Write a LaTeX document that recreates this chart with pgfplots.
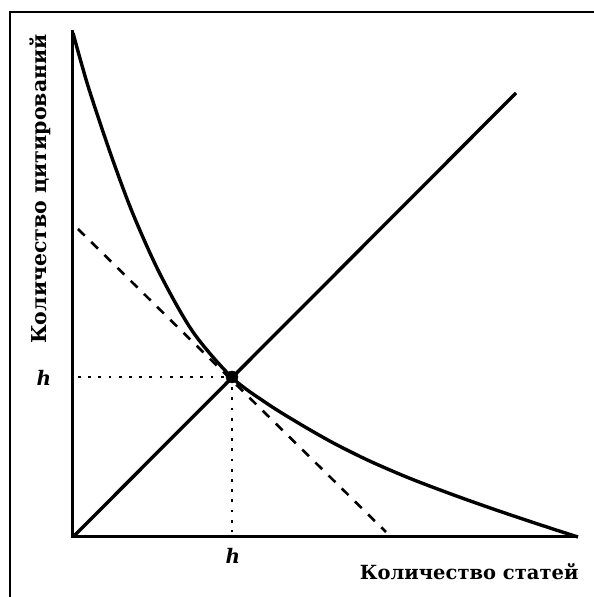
\documentclass[border=0pt]{standalone}
\usepackage{pgfplots}
\pgfplotsset{compat=1.18}
\usepackage{fontspec}
\setmainfont{DejaVu Serif}
\begin{document}
\begin{tikzpicture}[x=1pt,y=1pt]
\path[use as bounding box] (0,0) rectangle (594,597);
\draw[line width=1.8pt] (10,0) -- (10,585) -- (594,585);
\begin{axis}[at={(73pt,60pt)}, anchor=origin, x=1pt, y=1pt,
  xmin=0, xmax=505, ymin=0, ymax=507,
  axis lines=none, clip=false]
% axes
\addplot[black, line width=3pt, line join=miter] coordinates {(0,507) (0,0) (505,0)};
% decreasing curve
\addplot[black, line width=3.4pt, smooth, tension=0.5] coordinates {
(0,504) (15,451) (38,382) (60,323) (87,263) (120,205) (159,159.5) (194,133.5)
(227,113) (260,94.2) (294,77.2) (327,62.7) (350,53.5) (384,40.8) (417,29.1)
(450,17.9) (484,6.7) (505,0)};
% diagonal
\addplot[black, line width=3.4pt] coordinates {(0,0) (443,444)};
% dashed tangent
\addplot[black, line width=2.6pt, dash pattern=on 9.5pt off 9pt] coordinates {(5,308) (313,5)};
% dotted guides
\addplot[black, line width=2.8pt, dash pattern=on 2.8pt off 7.4pt] coordinates {(5,160) (159,160)};
\addplot[black, line width=2.8pt, dash pattern=on 2.8pt off 7.4pt] coordinates {(159,160) (159,5)};
% point
\addplot[black, only marks, mark=*, mark size=6pt] coordinates {(159,160)};
% labels
\node[font=\fontsize{20}{24}\selectfont\bfseries\itshape] at (axis cs:-29,159) {h};
\node[font=\fontsize{20}{24}\selectfont\bfseries\itshape] at (axis cs:160,-19) {h};
\node[font=\fontsize{19.5}{23}\selectfont\bfseries, anchor=east] at (axis cs:509,-35) {Количество статей};
\node[font=\fontsize{20.5}{24}\selectfont\bfseries, rotate=90] at (axis cs:-33,348) {Количество цитирований};
\end{axis}
\end{tikzpicture}
\end{document}
